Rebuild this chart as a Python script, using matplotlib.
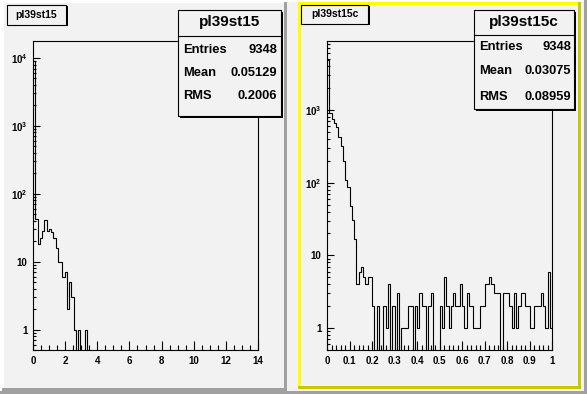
import numpy as np
import matplotlib
matplotlib.use('Agg')
import matplotlib.pyplot as plt
from matplotlib.patches import Rectangle
from matplotlib.ticker import MultipleLocator, FuncFormatter, LogLocator, NullFormatter

plt.rcParams['font.family'] = ['Liberation Sans', 'DejaVu Sans']
plt.rcParams['font.weight'] = 'bold'
plt.rcParams['mathtext.fontset'] = 'custom'
plt.rcParams['mathtext.bf'] = 'Liberation Sans:bold'
plt.rcParams['mathtext.rm'] = 'Liberation Sans:bold'

# ---------------- data ----------------
left_title = "pl39st15"
left_range = (0.0, 14.0)
left_counts = [9030, 43, 18, 22, 28, 41, 28, 30, 27, 22,
               16, 10, 10, 6, 7, 2, 5, 3, 1, 0,
               1, 0, 0, 1] + [0] * 76
left_stats = [("Entries", "9348"), ("Mean", "0.05129"), ("RMS", "0.2006")]
left_ylim = (0.5, 17800)

right_title = "pl39st15c"
right_range = (0.0, 1.0)
right_counts = [4860, 900, 745, 669, 590, 430, 323, 200, 109, 88,
                48, 31, 17, 4, 6, 7, 5, 4, 5, 5,
                2, 0, 2, 0, 0, 2, 1, 4, 0, 2,
                0, 3, 0, 1, 1, 1, 2, 2, 0, 2,
                1, 3, 2, 2, 0, 2, 3, 0, 0, 0,
                2, 1, 5, 2, 1, 2, 3, 2, 2, 4,
                2, 1, 3, 2, 2, 1, 1, 1, 2, 2,
                4, 4, 5, 4, 3, 3, 3, 0, 3, 3,
                3, 2, 1, 3, 1, 2, 3, 3, 2, 2,
                1, 1, 2, 2, 2, 3, 2, 1, 6, 1]
right_stats = [("Entries", "9348"), ("Mean", "0.03075"), ("RMS", "0.08959")]
right_ylim = (0.5, 8870)

left_xticks_major, left_xticks_minor = 2, 0.5
right_xticks_major, right_xticks_minor = 0.1, 0.02

# ---------------- figure ----------------
W, H = 587, 394
PAD = '#f2f2f2'
fig = plt.figure(figsize=(W / 100, H / 100), dpi=100)
fig.patch.set_facecolor(PAD)

bg = fig.add_axes([0, 0, 1, 1], zorder=0)
bg.set_xlim(0, W); bg.set_ylim(H, 0); bg.axis('off')


def rect(ax, x0, y0, x1, y1, color, **kw):
    ax.add_patch(Rectangle((x0, y0), x1 - x0, y1 - y0, facecolor=color,
                           edgecolor='none', **kw))

# canvas bevel
rect(bg, 0, 0, W, 1.5, 'white')
rect(bg, 0, 0, 1.5, H, 'white')
rect(bg, 583.5, 0, W, H, '#a0a0a0')
rect(bg, 0, 391, W, H, '#a0a0a0')
# left pad bevel
rect(bg, 1.5, 1.5, 287, 391, PAD)
rect(bg, 1.5, 1.5, 287, 3, 'white')
rect(bg, 1.5, 1.5, 4, 391, 'white')
rect(bg, 284, 1.5, 287, 391, '#a0a0a0')
rect(bg, 1.5, 388, 287, 391, '#a0a0a0')
# right pad bevel (highlighted)
rect(bg, 298, 2, 581, 389, PAD)
rect(bg, 298, 2, 581, 5, '#ffff00')
rect(bg, 298, 2, 301, 389, '#ffff00')
rect(bg, 578, 2, 581, 389, '#c8c800')
rect(bg, 298, 386, 581, 389, '#c8c800')

LW = 0.8


def yfmt(v, pos):
    e = int(round(np.log10(v)))
    if e == 0:
        return '1'
    if e == 1:
        return '10'
    return r'$\mathbf{10^{%d}}$' % e


def make_axes(x0, counts, xr, ylim, maj, mino):
    ax = fig.add_axes([x0 / W, (H - 350) / H, 225 / W, 309 / H], zorder=1)
    ax.set_facecolor(PAD)
    counts = np.asarray(counts, dtype=float)
    edges = np.linspace(xr[0], xr[1], len(counts) + 1)
    draw = np.where(counts > 0, counts, 1e-3)
    ax.set_yscale('log')
    ax.stairs(draw, edges, baseline=None, color='black', lw=LW)
    ax.set_xlim(*xr)
    ax.set_ylim(*ylim)
    ax.xaxis.set_major_locator(MultipleLocator(maj))
    ax.xaxis.set_minor_locator(MultipleLocator(mino))
    ax.xaxis.set_major_formatter(FuncFormatter(lambda v, p: f"{round(v, 2):g}"))
    ax.yaxis.set_major_locator(LogLocator(base=10))
    ax.yaxis.set_minor_locator(LogLocator(base=10, subs=np.arange(2, 10)))
    ax.yaxis.set_minor_formatter(NullFormatter())
    ax.yaxis.set_major_formatter(FuncFormatter(yfmt))
    ax.tick_params(axis='x', which='major', direction='in', length=6.5,
                   width=LW, labelsize=7, pad=4.5)
    ax.tick_params(axis='x', which='minor', direction='in', length=3.6, width=LW)
    ax.tick_params(axis='y', which='major', direction='in', length=4.8,
                   width=LW, labelsize=7, pad=4)
    ax.tick_params(axis='y', which='minor', direction='in', length=2.4, width=LW)
    for lab in ax.get_xticklabels() + ax.get_yticklabels():
        lab.set_fontweight('bold')
    for s in ax.spines.values():
        s.set_linewidth(LW)
    return ax

axL = make_axes(33, left_counts, left_range, left_ylim,
                left_xticks_major, left_xticks_minor)
axR = make_axes(327, right_counts, right_range, right_ylim,
                right_xticks_major, right_xticks_minor)

ov = fig.add_axes([0, 0, 1, 1], zorder=5)
ov.set_xlim(0, W); ov.set_ylim(H, 0); ov.axis('off')
ov.patch.set_alpha(0)


def shadow_box(x0, y0, x1, y1, sh=2):
    rect(ov, x0 + sh, y0 + sh, x1 + sh, y1 + sh, 'black')
    ov.add_patch(Rectangle((x0, y0), x1 - x0, y1 - y0, facecolor=PAD,
                           edgecolor='black', lw=LW))


def stats_box(x0, y0, x1, y1, ydiv, title, ty, rows, rys, lx, rx):
    shadow_box(x0, y0, x1, y1)
    ov.plot([x0, x1], [ydiv, ydiv], color='black', lw=LW)
    ov.text((x0 + x1) / 2, ty, title, ha='center', va='center',
            fontsize=11, fontweight='bold')
    for (k, v), yy in zip(rows, rys):
        ov.text(lx, yy, k, ha='left', va='center', fontsize=9.3, fontweight='bold')
        ov.text(rx, yy, v, ha='right', va='center', fontsize=9.3, fontweight='bold')


def title_box(x0, y0, x1, y1, text):
    shadow_box(x0, y0, x1, y1, sh=1.5)
    ov.text((x0 + x1) / 2, (y0 + y1) / 2, text, ha='center', va='center',
            fontsize=7.5, fontweight='bold')

title_box(7, 4.5, 66, 24.5, left_title)
title_box(301, 4.5, 368, 23.5, right_title)
stats_box(178, 10, 281, 116, 36, left_title, 21.5, left_stats,
          [50, 72.5, 96], 183, 277)
stats_box(474, 10, 574, 109, 35, right_title, 21.5, right_stats,
          [46.5, 71, 96.5], 479, 571)

fig.savefig('out.png', dpi=100, facecolor=fig.get_facecolor())
